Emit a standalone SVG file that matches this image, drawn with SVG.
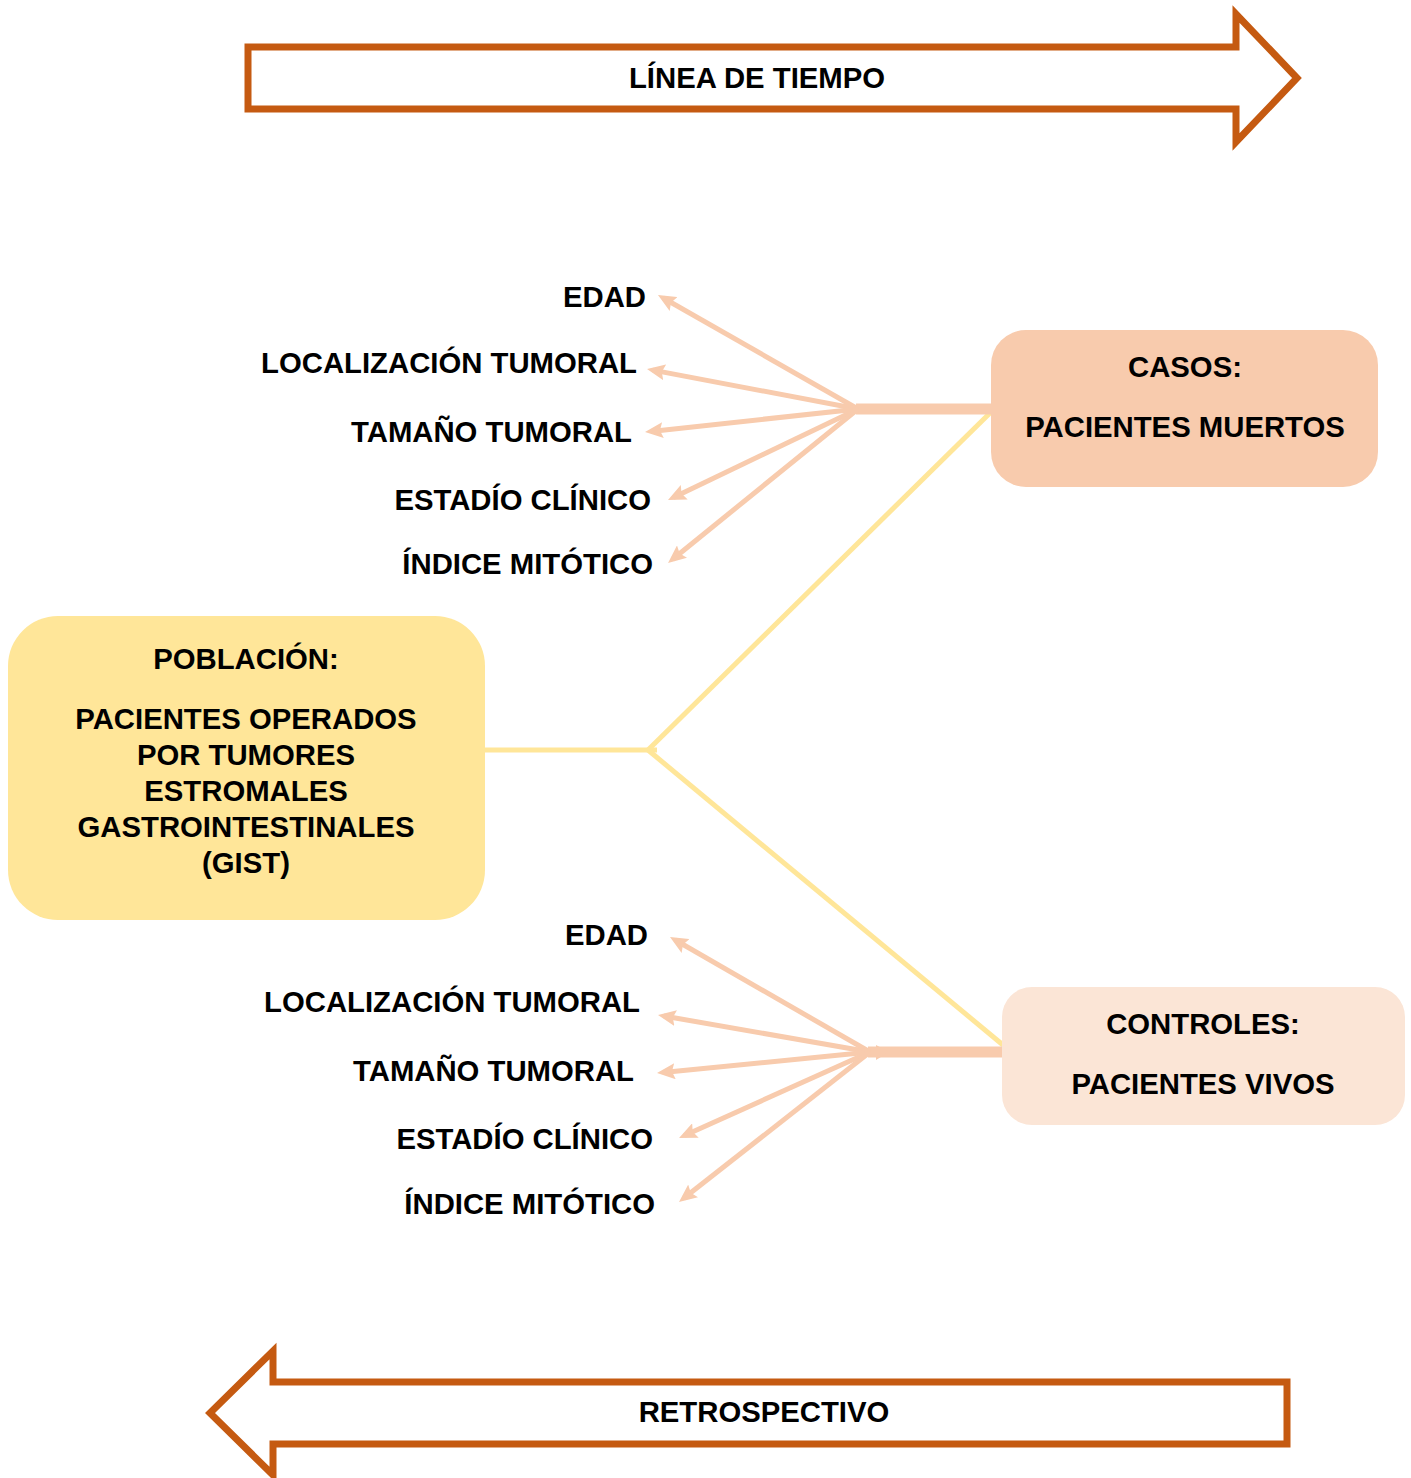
<svg xmlns="http://www.w3.org/2000/svg" width="1411" height="1478" viewBox="0 0 1411 1478">
<style>
.t{font-family:"Liberation Sans",Arial,sans-serif;font-weight:bold;font-size:29.3px;fill:#000}
.m{text-anchor:middle}
.e{text-anchor:end}
.big{fill:#fff;stroke:#C55A11;stroke-width:7;stroke-linejoin:miter}
.y{stroke:#FFE699;stroke-width:5;fill:none}
.p{stroke:#F8CBAD;stroke-width:5;fill:none;marker-end:url(#ah)}
.bar{stroke:#F8CBAD;stroke-width:11;fill:none}
</style>
<defs>
<marker id="ah" markerUnits="userSpaceOnUse" markerWidth="18" markerHeight="16" viewBox="0 0 18 16" refX="12" refY="8" orient="auto">
<path d="M0,0 L18,8 L0,16 L3,8 z" fill="#F8CBAD"/>
</marker>
</defs>
<g id="timeline">
<polygon class="big" points="248,47 1236,47 1236,14 1297,78 1236,142 1236,109 248,109"/>
<text class="t m" x="757" y="88">LÍNEA DE TIEMPO</text>
</g>
<g id="retro">
<polygon class="big" points="1287,1382 273,1382 273,1351 210,1413 273,1475 273,1444 1287,1444"/>
<text class="t m" x="764" y="1422">RETROSPECTIVO</text>
</g>
<g id="connectors">
<polyline class="y" points="485,750 657,750"/>
<line class="y" x1="648" y1="750" x2="990" y2="413"/>
<line class="y" x1="648" y1="750" x2="1003" y2="1045"/>
<line class="bar" x1="856" y1="409" x2="992" y2="409"/>
<line class="p" x1="858" y1="409" x2="663.2" y2="298"/>
<line class="p" x1="858" y1="409" x2="652.9" y2="370.1"/>
<line class="p" x1="858" y1="409" x2="651" y2="431.4"/>
<line class="p" x1="858" y1="409" x2="673.4" y2="497.4"/>
<line class="p" x1="858" y1="409" x2="672.7" y2="559.2"/>
<line class="bar" x1="868" y1="1052" x2="1003" y2="1052"/>
<polygon points="876,1045 889,1052 876,1060" fill="#F8CBAD"/>
<line class="p" x1="870" y1="1052" x2="675.2" y2="940"/>
<line class="p" x1="870" y1="1052" x2="663.9" y2="1016"/>
<line class="p" x1="870" y1="1052" x2="663" y2="1072.4"/>
<line class="p" x1="870" y1="1052" x2="684.5" y2="1135.5"/>
<line class="p" x1="870" y1="1052" x2="683.7" y2="1198.3"/>
</g>
<g id="labels-top">
<text class="t e" x="646" y="307">EDAD</text>
<text class="t e" x="637" y="373">LOCALIZACIÓN TUMORAL</text>
<text class="t e" x="632" y="442">TAMAÑO TUMORAL</text>
<text class="t e" x="651" y="510">ESTADÍO CLÍNICO</text>
<text class="t e" x="653" y="574">ÍNDICE MITÓTICO</text>
</g>
<g id="labels-bottom">
<text class="t e" x="648" y="945">EDAD</text>
<text class="t e" x="640" y="1012">LOCALIZACIÓN TUMORAL</text>
<text class="t e" x="634" y="1081">TAMAÑO TUMORAL</text>
<text class="t e" x="653" y="1149">ESTADÍO CLÍNICO</text>
<text class="t e" x="655" y="1214">ÍNDICE MITÓTICO</text>
</g>
<g id="poblacion">
<rect x="8" y="616" width="477" height="304" rx="50" fill="#FFE699"/>
<text class="t m" x="246" y="669">POBLACIÓN:</text>
<text class="t m" x="246" y="729">PACIENTES OPERADOS</text>
<text class="t m" x="246" y="765">POR TUMORES</text>
<text class="t m" x="246" y="801">ESTROMALES</text>
<text class="t m" x="246" y="837">GASTROINTESTINALES</text>
<text class="t m" x="246" y="873">(GIST)</text>
</g>
<g id="casos">
<rect x="991" y="330" width="387" height="157" rx="35" fill="#F8CBAD"/>
<text class="t m" x="1185" y="377">CASOS:</text>
<text class="t m" x="1185" y="437">PACIENTES MUERTOS</text>
</g>
<g id="controles">
<rect x="1002" y="987" width="403" height="138" rx="30" fill="#FBE5D6"/>
<text class="t m" x="1203" y="1034">CONTROLES:</text>
<text class="t m" x="1203" y="1094">PACIENTES VIVOS</text>
</g>
</svg>
